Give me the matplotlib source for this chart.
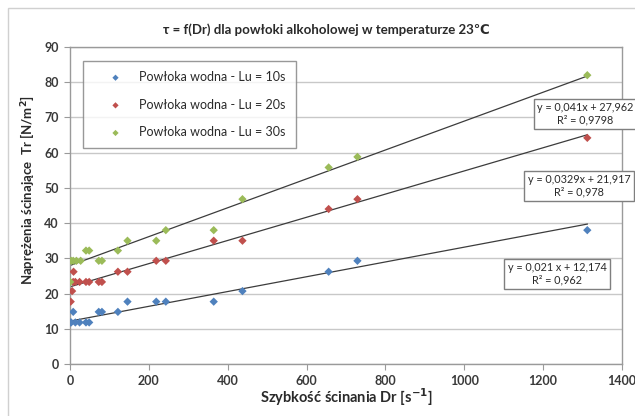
import matplotlib
matplotlib.use("Agg")
import matplotlib.pyplot as plt
from matplotlib.patches import Rectangle
import numpy as np

plt.rcParams['font.family'] = ['Lato', 'DejaVu Sans']

# Shear rate Dr [1/s] and shear stress Tr [N/m^2] for each series
dr_10 = [0.6, 3, 13.5, 24.3, 40.5, 48.6, 8.1, 72.9, 81, 121.5, 145.8, 218.7, 243, 364.5, 437.4, 656, 729, 1312]
tr_10 = [11.8, 11.8, 11.8, 11.8, 11.8, 11.8, 14.8, 14.8, 14.8, 14.8, 17.7, 17.7, 17.7, 17.7, 20.7, 26.2, 29.3, 38.0]

dr_20 = [1.8, 5.4, 8.1, 13.5, 24.3, 40.5, 48.6, 72.9, 81, 9, 121.5, 145.8, 218.7, 243, 364.5, 437.4, 656, 729, 1312]
tr_20 = [17.7, 20.7, 23.3, 23.3, 23.3, 23.3, 23.3, 23.3, 23.3, 26.2, 26.2, 26.2, 29.3, 29.3, 35.0, 35.0, 44.0, 46.8, 64.2]

dr_30 = [0.6, 3, 8.1, 16.2, 27, 40.5, 48.6, 72.9, 81, 121.5, 145.8, 218.7, 243, 364.5, 437.4, 656, 729, 1312]
tr_30 = [23.3, 29.3, 29.3, 29.3, 29.3, 32.2, 32.2, 29.3, 29.3, 32.2, 35.0, 35.0, 38.0, 38.0, 46.8, 55.8, 58.8, 82.0]

# Linear trendlines: slope, intercept
fits = {
    "10": (0.021, 12.174),
    "20": (0.0329, 21.917),
    "30": (0.041, 27.962),
}
fit_labels = {
    "10": "y = 0,021 x + 12,174\nR² = 0,962",
    "20": "y = 0,0329x + 21,917\nR² = 0,978",
    "30": "y = 0,041x + 27,962\nR² = 0,9798",
}

series_labels = ["Powłoka wodna - Lu = 10s", "Powłoka wodna - Lu = 20s", "Powłoka wodna - Lu = 30s"]
colors = ["#4F81BD", "#C0504D", "#9BBB59"]

W, H = 635, 416
fig = plt.figure(figsize=(W / 100, H / 100), dpi=100)

# chart area border
fig.patches.append(Rectangle((8 / W, -0.05), 1.1, 1 - 8 / H + 0.05, transform=fig.transFigure,
                             fill=False, edgecolor="#d0d0d0", linewidth=1.0))

ax = fig.add_axes([70 / W, 1 - 364 / H, (622 - 70) / W, (364 - 47) / H])
ax.set_xlim(0, 1400)
ax.set_ylim(0, 90)
ax.set_xticks(range(0, 1401, 200))
ax.set_yticks(range(0, 91, 10))
ax.grid(axis="y", color="#c8c8c8", linewidth=1.0)
ax.set_axisbelow(True)
for s in ax.spines.values():
    s.set_color("#9a9a9a")
    s.set_linewidth(1.0)
ax.tick_params(axis="both", direction="out", length=4, color="#9a9a9a", labelsize=9,
               labelcolor="#3a3a3a", pad=4)
for lbl in ax.get_xticklabels() + ax.get_yticklabels():
    lbl.set_fontweight("bold")

data = [(dr_10, tr_10, "10"), (dr_20, tr_20, "20"), (dr_30, tr_30, "30")]
handles = []
for (dx, dy, key), c, lab in zip(data, colors, series_labels):
    h = ax.scatter(dx, dy, marker="D", s=18, color=c, edgecolors="none", zorder=3, label=lab)
    handles.append(h)
    k, b = fits[key]
    xs = np.array([0, max(dx)])
    ax.plot(xs, k * xs + b, color="#3c3c3c", linewidth=0.9, zorder=2)

leg = ax.legend(handles=handles, loc="upper left",
                bbox_to_anchor=((83 - 70) / (622 - 70), 1 - (61 - 47) / (364 - 47)),
                frameon=True, fancybox=False, edgecolor="#7f7f7f", fontsize=9,
                labelspacing=1.25, handletextpad=0.1, borderpad=0.8, borderaxespad=0,
                markerscale=0.75, handlelength=3.6)
leg.get_frame().set_linewidth(1.0)
for t in leg.get_texts():
    t.set_color("#2a2a2a")

# trendline equation boxes (figure pixel centres)
box_pos = {"30": (585, 114), "20": (579, 186), "10": (557, 274)}
for key, (px, py) in box_pos.items():
    fig.text(px / W, 1 - py / H, fit_labels[key], ha="center", va="center", fontsize=7.8,
             color="#2a2a2a", linespacing=1.2, multialignment="center",
             bbox=dict(boxstyle="square,pad=0.3", facecolor="white", edgecolor="#7f7f7f", linewidth=1.0))

fig.text(326 / W, 1 - 30 / H, "τ = f(Dr) dla powłoki alkoholowej w temperaturze 23℃",
         ha="center", va="center", fontsize=9.5, fontweight="bold", color="#2a2a2a")
fig.text(346 / W, 1 - 397 / H, "Szybkość ścinania Dr [s$^{\\mathbf{-1}}$]", ha="center", va="center",
         fontsize=10.5, fontweight="bold", color="#2a2a2a")
fig.text(27 / W, 1 - 190 / H, "Naprężenia ścinające  Tr [N/m$^{\\mathbf{2}}$]", ha="center", va="center",
         rotation=90, fontsize=9.5, fontweight="bold", color="#2a2a2a")

fig.savefig("out.png", dpi=100)
